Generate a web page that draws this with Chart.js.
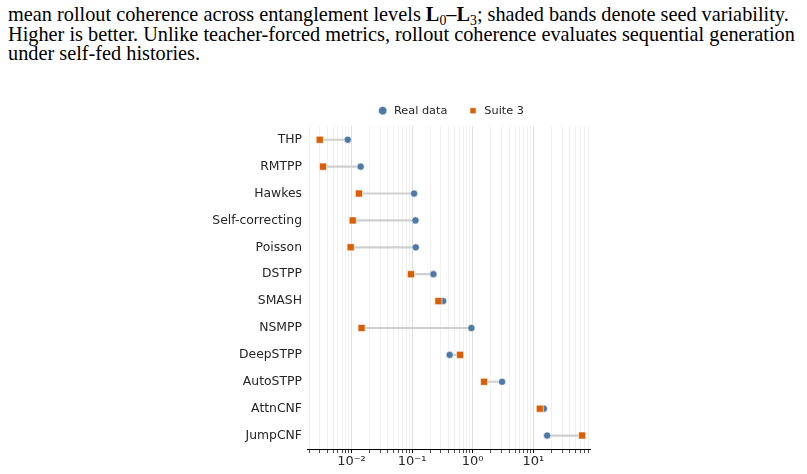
<!DOCTYPE html>
<html>
<head>
<meta charset="utf-8">
<script src="https://cdn.jsdelivr.net/npm/chart.js@4.4.0/dist/chart.umd.min.js"></script>
<style>
  body { margin: 0; background: #fff; width: 807px; height: 474px; overflow: hidden; position: relative; }
  #caption { position: absolute; left: 8px; top: 5px; font-family: "Liberation Serif", "Times New Roman", serif;
             font-size: 20.3px; line-height: 19.5px; color: #000; white-space: nowrap; }
  #caption .s { font-size: 0.68em; vertical-align: -0.3em; line-height: 0; }
  #wrap { position: absolute; left: 195px; top: 85px; width: 410px; height: 388px; }
</style>
</head>
<body>
<div id="caption">mean rollout coherence across entanglement levels <b>L</b><span class="s">0</span>–<b>L</b><span class="s">3</span>; shaded bands denote seed variability.<br>Higher is better. Unlike teacher-forced metrics, rollout coherence evaluates sequential generation<br>under self-fed histories.</div>
<div id="wrap"><canvas id="chart"></canvas></div>
<script>
const models = ['THP', 'RMTPP', 'Hawkes', 'Self-correcting', 'Poisson', 'DSTPP', 'SMASH', 'NSMPP', 'DeepSTPP', 'AutoSTPP', 'AttnCNF', 'JumpCNF'];
const realData = [0.0087, 0.0142, 0.108, 0.1135, 0.115, 0.225, 0.325, 0.95, 0.417, 3.05, 14.9, 16.9];
const suite3 = [0.0030, 0.0034, 0.0133, 0.0105, 0.0097, 0.096, 0.272, 0.0147, 0.62, 1.54, 12.8, 63.8];
const majorTicks = [0.01, 0.1, 1, 10];
const tickLabels = ['10⁻²', '10⁻¹', '10⁰', '10¹'];
const xMin = 0.00185, xMax = 86;

const BLUE = '#4e79a7';
const ORANGE = '#d95f02';

function isMajor(v) {
    return majorTicks.some(m => Math.abs(v - m) / m < 1e-6);
}

// dumbbell connectors as thin floating bars
const connectors = models.map((m, i) => [suite3[i], realData[i]]);

// legend sits centred over the plot area, not the whole canvas
const legendShift = {
    id: 'legendShift',
    afterLayout(chart) {
        const lg = chart.legend;
        const dx = (chart.chartArea.left + chart.chartArea.right) / 2 - (lg.left + lg.right) / 2 + 2;
        lg.left += dx;
        lg.right += dx;
    }
};

const ctx = document.getElementById('chart').getContext('2d');
new Chart(ctx, {
    type: 'bar',
    data: {
        labels: models,
        datasets: [
            {
                type: 'bar',
                label: 'gap',
                indexAxis: 'y',
                data: connectors,
                backgroundColor: '#cfcfcf',
                barThickness: 1.5,
                order: 2
            },
            {
                type: 'line',
                label: 'Real data',
                indexAxis: 'y',
                data: realData,
                showLine: false,
                pointStyle: 'circle',
                pointRadius: 3.6,
                backgroundColor: BLUE,
                borderColor: '#ffffff',
                pointBorderWidth: 0.6,
                order: 1
            },
            {
                type: 'line',
                label: 'Suite 3',
                indexAxis: 'y',
                data: suite3,
                showLine: false,
                pointStyle: 'rect',
                pointRadius: 5,
                backgroundColor: ORANGE,
                borderColor: '#ffffff',
                pointBorderWidth: 0.6,
                order: 0
            }
        ]
    },
    plugins: [legendShift],
    options: {
        indexAxis: 'y',
        responsive: true,
        maintainAspectRatio: false,
        animation: false,
        layout: { padding: { left: 0, right: 15, top: 0, bottom: 0 } },
        plugins: {
            tooltip: { enabled: false },
            legend: {
                position: 'top',
                labels: {
                    usePointStyle: true,
                    boxHeight: 6,
                    padding: 20,
                    color: '#262626',
                    font: { family: 'DejaVu Sans', size: 11.3 },
                    filter: item => item.text !== 'gap',
                    sort: (a, b) => a.datasetIndex - b.datasetIndex
                }
            }
        },
        scales: {
            x: {
                type: 'logarithmic',
                position: 'bottom',
                min: xMin,
                max: xMax,
                border: { display: true, color: '#000', width: 1 },
                grid: {
                    color: c => (c.tick && isMajor(c.tick.value)) ? '#dadada' : '#eeeeee',
                    lineWidth: 0.9,
                    tickColor: '#000',
                    tickLength: 4,
                    tickWidth: c => (c.tick && isMajor(c.tick.value)) ? 1 : 0.7
                },
                afterBuildTicks: axis => {
                    const ticks = [];
                    for (let e = -3; e <= 1; e++) {
                        for (let m = 1; m <= 9; m++) {
                            const v = m * Math.pow(10, e);
                            if (v >= xMin && v <= xMax) ticks.push({ value: v, major: m === 1 });
                        }
                    }
                    axis.ticks = ticks;
                },
                afterFit: scale => { scale.height = 24; },
                ticks: {
                    autoSkip: false,
                    maxRotation: 0,
                    padding: 1,
                    color: '#262626',
                    font: { family: 'DejaVu Sans', size: 13 },
                    callback: value => {
                        const i = majorTicks.findIndex(m => Math.abs(value - m) / m < 1e-6);
                        return i >= 0 ? tickLabels[i] : '';
                    }
                }
            },
            y: {
                type: 'category',
                offset: true,
                grid: { display: false, drawTicks: false },
                border: { display: false },
                afterFit: scale => { scale.width = 112; },
                ticks: {
                    padding: 5,
                    color: '#262626',
                    font: { family: 'DejaVu Sans', size: 12.4 }
                }
            }
        }
    }
});
</script>
</body>
</html>
